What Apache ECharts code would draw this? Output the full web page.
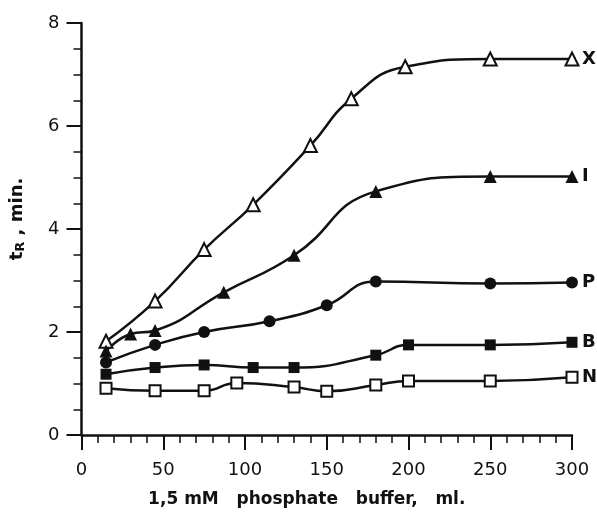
<!DOCTYPE html>
<html>
<head>
<meta charset="utf-8">
<script src="https://cdn.jsdelivr.net/npm/echarts@6/dist/echarts.min.js"></script>
<style>
  html, body { margin: 0; padding: 0; background: #fff; }
  #chart { width: 597px; height: 513px; }
</style>
</head>
<body>
<div id="chart"></div>
<script>
// data: [ml buffer, tR min]
let seriesX = [[15, 1.82], [45, 2.6], [75, 3.6], [105, 4.47], [140, 5.62], [165, 6.53], [198, 7.15], [250, 7.3], [300, 7.3]]
let seriesI = [[15, 1.63], [30, 1.96], [45, 2.03], [87, 2.77], [130, 3.49], [180, 4.73], [250, 5.02], [300, 5.02]]
let seriesP = [[15, 1.41], [45, 1.75], [75, 2.0], [115, 2.21], [150, 2.52], [180, 2.98], [250, 2.94], [300, 2.96]]
let seriesB = [[15, 1.18], [45, 1.31], [75, 1.36], [105, 1.31], [130, 1.31], [180, 1.55], [200, 1.75], [250, 1.75], [300, 1.8]]
let seriesN = [[15, 0.91], [45, 0.86], [75, 0.86], [95, 1.01], [130, 0.93], [150, 0.85], [180, 0.97], [200, 1.05], [250, 1.05], [300, 1.12]]
let names = ['X', 'I', 'P', 'B', 'N']
let symbols = ['emptyTriangle', 'triangle', 'circle', 'rect', 'emptyRect']

let font = 'DejaVu Sans'
let ink = '#111'

function makeSeries(name, data, symbol) {
    let size = 11
    if (symbol.indexOf('riangle') >= 0) size = 13
    if (symbol == 'circle') size = 12
    return {
        name: name,
        type: 'line',
        data: data,
        smooth: 0.5,
        symbol: symbol,
        symbolSize: size,
        lineStyle: { color: ink, width: 2.5 },
        itemStyle: { color: ink, borderWidth: 2 },
        endLabel: {
            show: true,
            formatter: name,
            color: ink,
            fontFamily: font,
            fontSize: 18,
            fontWeight: 'bold',
            distance: 10
        },
        animation: false
    }
}

let chart = echarts.init(document.getElementById('chart'))
let all = [seriesX, seriesI, seriesP, seriesB, seriesN]
let option = {
    backgroundColor: '#fff',
    grid: { left: 81, right: 25, top: 23, bottom: 77 },
    xAxis: {
        type: 'value',
        min: 0,
        max: 300,
        interval: 50,
        name: '1,5 mM   phosphate   buffer,   ml.',
        nameLocation: 'middle',
        nameGap: 56,
        nameTextStyle: { color: ink, fontFamily: font, fontSize: 17, fontWeight: 'bold', padding: [0, 40, 0, 0] },
        axisLine: { lineStyle: { color: ink, width: 2.5 } },
        axisTick: { show: true, inside: false, length: 15, lineStyle: { color: ink, width: 2 } },
        minorTick: { show: true, splitNumber: 5, length: 8, lineStyle: { color: ink, width: 1.5 } },
        axisLabel: { color: ink, fontFamily: font, fontSize: 18, margin: 26 },
        splitLine: { show: false }
    },
    yAxis: {
        type: 'value',
        min: 0,
        max: 8,
        interval: 2,
        name: '{t|t}{r|R}{t| , min.}',
        nameLocation: 'middle',
        nameGap: 54,
        nameRotate: 90,
        nameTextStyle: {
            color: ink,
            padding: [0, 0, 0, 20],
            rich: {
                t: { fontFamily: font, fontSize: 18, fontWeight: 'bold', color: ink },
                r: { fontFamily: font, fontSize: 13, fontWeight: 'bold', color: ink, padding: [8, 0, 0, 0] }
            }
        },
        axisLine: { show: true, lineStyle: { color: ink, width: 2.5 } },
        axisTick: { show: true, inside: false, length: 15, lineStyle: { color: ink, width: 2 } },
        minorTick: { show: true, splitNumber: 4, length: 8, lineStyle: { color: ink, width: 1.5 } },
        axisLabel: { color: ink, fontFamily: font, fontSize: 18, margin: 22 },
        splitLine: { show: false }
    },
    series: all.map(function (d, i) { return makeSeries(names[i], d, symbols[i]) }),
    animation: false
}
chart.setOption(option)
</script>
</body>
</html>
